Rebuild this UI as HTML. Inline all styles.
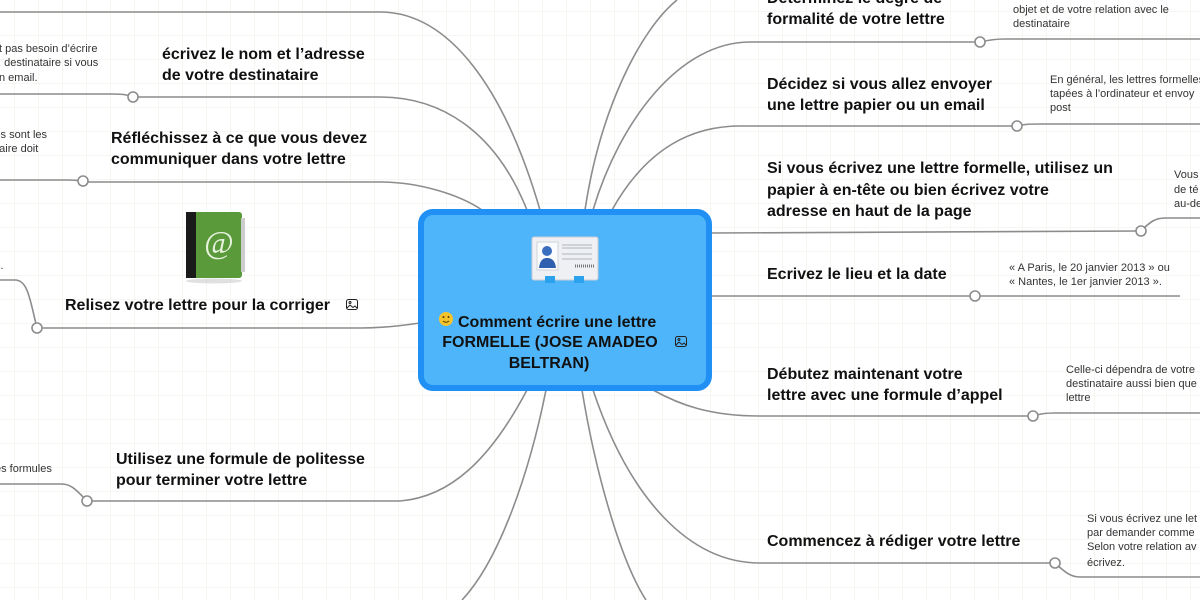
<!DOCTYPE html>
<html><head><meta charset="utf-8">
<style>
html,body{margin:0;padding:0;width:1200px;height:600px;overflow:hidden;background:#fff;}
svg{display:block}
.m{font-family:"Liberation Sans",sans-serif;font-weight:bold;font-size:16px;fill:#111;}
.n{font-family:"Liberation Sans",sans-serif;font-size:11px;fill:#333;}
.c{fill:none;stroke:#8c8c8c;stroke-width:1.6}
.d{fill:#fff;stroke:#8c8c8c;stroke-width:1.6}
</style></head><body>
<svg width="1200" height="600" viewBox="0 0 1200 600" xmlns="http://www.w3.org/2000/svg">
<defs>
<pattern id="g" x="14" y="11" width="24" height="24" patternUnits="userSpaceOnUse">
<path d="M0 0V24M0 0H24" fill="none" stroke="#eef3e6" stroke-width="1.2"/>
</pattern>
</defs>
<rect width="1200" height="600" fill="url(#g)"/>

<!-- connectors from center -->
<path class="c" d="M540 210 C505 90 450 12 380 12 L0 12"/>
<path class="c" d="M527 210 C495 130 440 97 380 97 L133 97"/>
<path class="c" d="M482 210 C460 195 420 182 380 182 L83 182"/>
<path class="c" d="M420 323 C400 326 380 328 360 328 L37 328"/>
<path class="c" d="M527 390 C490 460 450 497 400 501 L87 501"/>
<path class="c" d="M546 390 C530 470 500 560 462 600"/>
<path class="c" d="M582 390 C595 470 620 560 646 600"/>
<path class="c" d="M593 390 C630 500 690 563 760 563 L1055 563"/>
<path class="c" d="M653 390 C680 405 710 416 760 416 L1033 416"/>
<path class="c" d="M711 296 L975 296"/>
<path class="c" d="M711 233 L1141 231"/>
<path class="c" d="M612 210 C640 160 680 126 740 126 L1017 126"/>
<path class="c" d="M593 210 C620 120 680 42 750 42 L980 42"/>
<path class="c" d="M585 210 C600 110 640 30 677 0"/>

<!-- note connectors -->
<path class="c" d="M980 42 C990 40 995 39 1005 39 L1200 39"/>
<path class="c" d="M1017 126 C1025 124 1030 124 1040 124 L1200 124"/>
<path class="c" d="M1141 231 C1150 222 1155 218 1165 218 L1200 218"/>
<path class="c" d="M975 296 L1180 296"/>
<path class="c" d="M1033 416 C1040 414 1045 413 1055 413 L1200 413"/>
<path class="c" d="M1055 563 C1065 572 1070 577 1080 577 L1200 577"/>
<path class="c" d="M133 97 C125 94 120 94 110 94 L0 94"/>
<path class="c" d="M83 182 C78 180 72 180 65 180 L0 180"/>
<path class="c" d="M37 328 C30 300 28 280 15 280 L0 280"/>
<path class="c" d="M87 501 C78 492 72 484 62 484 L0 484"/>

<!-- dots -->
<circle class="d" cx="980" cy="42" r="5"/>
<circle class="d" cx="1017" cy="126" r="5"/>
<circle class="d" cx="1141" cy="231" r="5"/>
<circle class="d" cx="975" cy="296" r="5"/>
<circle class="d" cx="1033" cy="416" r="5"/>
<circle class="d" cx="1055" cy="563" r="5"/>
<circle class="d" cx="133" cy="97" r="5"/>
<circle class="d" cx="83" cy="181" r="5"/>
<circle class="d" cx="37" cy="328" r="5"/>
<circle class="d" cx="87" cy="501" r="5"/>

<!-- central node -->
<rect x="421" y="212" width="288" height="176" rx="12" fill="#4eb5fa" stroke="#2090f5" stroke-width="6"/>
<!-- card icon -->
<rect x="532" y="237" width="66" height="43" rx="2" fill="#eef0f3" stroke="#c8cdd3"/>
<rect x="537" y="242" width="21" height="28" fill="#fafbfc" stroke="#d0d4d8"/>
<circle cx="547" cy="251" r="5" fill="#3a6fc0"/>
<path d="M539 268 Q540 258 547 258 Q555 258 556 268Z" fill="#2f60b0"/>
<path d="M562 245h30M562 248h30M562 254h30M562 259h30" stroke="#b0b4b8" stroke-width="1"/>
<path d="M575 266h20" stroke="#777" stroke-width="3" stroke-dasharray="1 1"/>
<rect x="545" y="276" width="10" height="7" fill="#2aa2ee"/>
<rect x="574" y="276" width="10" height="7" fill="#2aa2ee"/>
<circle cx="446" cy="319" r="7" fill="#f5c32c"/>
<circle cx="443.5" cy="317" r="1" fill="#5a3a00"/><circle cx="448.5" cy="317" r="1" fill="#5a3a00"/>
<path d="M443 321 Q446 323.5 449 321" stroke="#5a3a00" fill="none" stroke-width="0.9"/>
<text class="m" x="458" y="327">Comment écrire une lettre</text>
<text class="m" x="550" y="347" text-anchor="middle">FORMELLE (JOSE AMADEO</text>
<text class="m" x="549" y="368" text-anchor="middle">BELTRAN)</text>
<g transform="translate(675,336)" fill="none" stroke="#222" stroke-width="1"><rect x="0.5" y="0.5" width="11" height="10" rx="2"/><path d="M1 9 L4 6 L7 8.5 L9 7 L11 9"/><circle cx="4" cy="3.5" r="1"/></g>

<!-- address book icon -->
<rect x="186" y="212" width="56" height="66" rx="3" fill="#5a9a3a"/>
<rect x="186" y="212" width="10" height="66" fill="#1a1a1a"/>
<rect x="241" y="218" width="4" height="54" fill="#ccc"/>
<text x="219" y="253" font-family="Liberation Serif,serif" font-size="32" fill="#e8f3df" text-anchor="middle">@</text>
<ellipse cx="214" cy="281" rx="28" ry="2.5" fill="#ccc" opacity="0.6"/>

<!-- left main labels -->
<text class="m" x="162" y="59">écrivez le nom et l’adresse</text>
<text class="m" x="162" y="80">de votre destinataire</text>
<text class="m" x="111" y="143">Réfléchissez à ce que vous devez</text>
<text class="m" x="111" y="164">communiquer dans votre lettre</text>
<text class="m" x="65" y="310">Relisez votre lettre pour la corriger</text>
<g transform="translate(346,299)" fill="none" stroke="#222" stroke-width="1"><rect x="0.5" y="0.5" width="11" height="10" rx="2"/><path d="M1 9 L4 6 L7 8.5 L9 7 L11 9"/><circle cx="4" cy="3.5" r="1"/></g>
<text class="m" x="116" y="464">Utilisez une formule de politesse</text>
<text class="m" x="116" y="485">pour terminer votre lettre</text>

<!-- right main labels -->
<text class="m" x="767" y="3">Déterminez le degré de</text>
<text class="m" x="767" y="24">formalité de votre lettre</text>
<text class="m" x="767" y="89">Décidez si vous allez envoyer</text>
<text class="m" x="767" y="110">une lettre papier ou un email</text>
<text class="m" x="767" y="173">Si vous écrivez une lettre formelle, utilisez un</text>
<text class="m" x="767" y="195">papier à en-tête ou bien écrivez votre</text>
<text class="m" x="767" y="216">adresse en haut de la page</text>
<text class="m" x="767" y="279">Ecrivez le lieu et la date</text>
<text class="m" x="767" y="379">Débutez maintenant votre</text>
<text class="m" x="767" y="400">lettre avec une formule d’appel</text>
<text class="m" x="767" y="546">Commencez à rédiger votre lettre</text>

<!-- notes right -->
<text class="n" x="1013" y="13">objet et de votre relation avec le</text>
<text class="n" x="1013" y="27">destinataire</text>
<text class="n" x="1050" y="83">En général, les lettres formelles</text>
<text class="n" x="1050" y="97">tapées à l’ordinateur et envoy</text>
<text class="n" x="1050" y="111">post</text>
<text class="n" x="1174" y="178">Vous</text>
<text class="n" x="1174" y="193">de té</text>
<text class="n" x="1174" y="207">au-de</text>
<text class="n" x="1009" y="271">« A Paris, le 20 janvier 2013 » ou</text>
<text class="n" x="1009" y="285">« Nantes, le 1er janvier 2013 ».</text>
<text class="n" x="1066" y="373">Celle-ci dépendra de votre</text>
<text class="n" x="1066" y="387">destinataire aussi bien que</text>
<text class="n" x="1066" y="401">lettre</text>
<text class="n" x="1087" y="522">Si vous écrivez une let</text>
<text class="n" x="1087" y="536">par demander comme</text>
<text class="n" x="1087" y="550">Selon votre relation av</text>
<text class="n" x="1087" y="566">écrivez.</text>

<!-- notes left -->
<text class="n" x="-1" y="52">t pas besoin d’écrire</text>
<text class="n" x="-2" y="66">, destinataire si vous</text>
<text class="n" x="-1" y="81">n email.</text>
<text class="n" x="-8" y="138">les sont les</text>
<text class="n" x="-10" y="152">ataire doit</text>
<text class="n" x="-5" y="269">s.</text>
<text class="n" x="-5" y="472">es formules</text>
</svg>
</body></html>
